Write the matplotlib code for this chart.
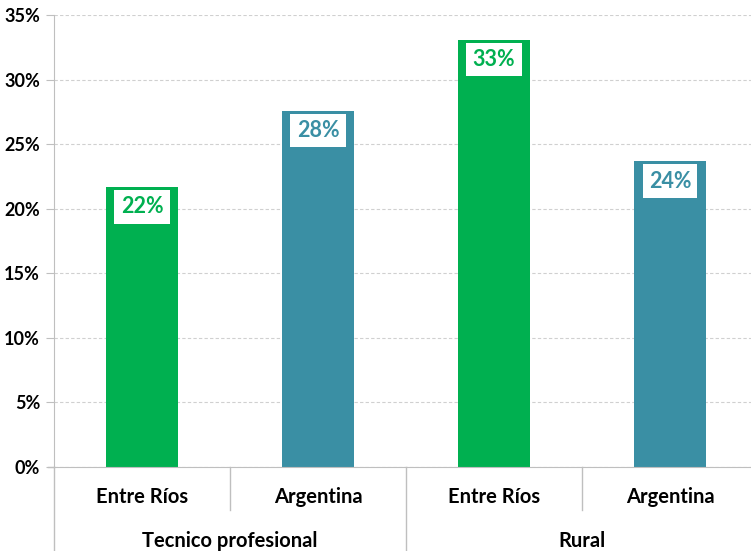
import matplotlib.pyplot as plt
from matplotlib.ticker import FuncFormatter

# data
groups = ["Tecnico profesional", "Rural"]
categories = ["Entre Ríos", "Argentina", "Entre Ríos", "Argentina"]
values = [21.7, 27.6, 33.1, 23.7]
labels = ["22%", "28%", "33%", "24%"]
colors = ["#00B050", "#3A8FA4", "#00B050", "#3A8FA4"]

plt.rcParams['font.family'] = ['Lato', 'DejaVu Sans']

fig = plt.figure(figsize=(7.51, 5.51), dpi=100)
# axes runs slightly past the right edge, like the original
ax = fig.add_axes([54 / 751, 1 - 467 / 551, 704 / 751, 452 / 551])

x = list(range(len(values)))
ax.bar(x, values, width=0.41, color=colors, zorder=2)
ax.set_xlim(-0.5, len(values) - 0.5)
ax.set_ylim(0, 35)
ax.set_yticks(range(0, 36, 5))
ax.yaxis.set_major_formatter(FuncFormatter(lambda v, p: "%d%%" % v))
ax.tick_params(axis='y', length=6, color='#BFBFBF', labelsize=13, pad=4)
for t in ax.get_yticklabels():
    t.set_fontweight('bold')
ax.set_xticks([])
ax.grid(axis='y', color='#D0D0D0', linestyle=(0, (3, 2)), linewidth=0.8, zorder=0)

for s in ['top', 'right']:
    ax.spines[s].set_visible(False)
ax.spines['left'].set_color('#BFBFBF')
ax.spines['bottom'].set_color('#BFBFBF')

# value labels in white boxes
for xi, v, lab, c in zip(x, values, labels, colors):
    ax.annotate(lab, xy=(xi, v), xytext=(0, -14.5), textcoords='offset points',
                ha='center', va='center', fontsize=15.5, fontweight='bold', color=c,
                bbox=dict(facecolor='white', edgecolor='none', pad=4.5), zorder=3)

# two-level category axis
trans = ax.get_xaxis_transform()
for xi, cat in zip(x, categories):
    ax.text(xi, -30 / 452, cat, transform=trans, ha='center', va='center',
            fontsize=14.5, fontweight='bold', clip_on=False)
for gi, g in enumerate(groups):
    ax.text(gi * 2 + 0.5, -74 / 452, g, transform=trans, ha='center', va='center',
            fontsize=14.5, fontweight='bold', clip_on=False)

# separators
ax.plot([-0.5, -0.5], [0, -84 / 452], transform=trans, color='#BFBFBF', lw=1, clip_on=False)
ax.plot([1.5, 1.5], [0, -84 / 452], transform=trans, color='#BFBFBF', lw=1, clip_on=False)
for b in [0.5, 2.5]:
    ax.plot([b, b], [0, -43 / 452], transform=trans, color='#BFBFBF', lw=1, clip_on=False)
ax.plot([-0.5 - 6 / 176, -0.5], [0, 0], transform=trans, color='#BFBFBF', lw=1, clip_on=False)

fig.savefig("out.png", dpi=100)
